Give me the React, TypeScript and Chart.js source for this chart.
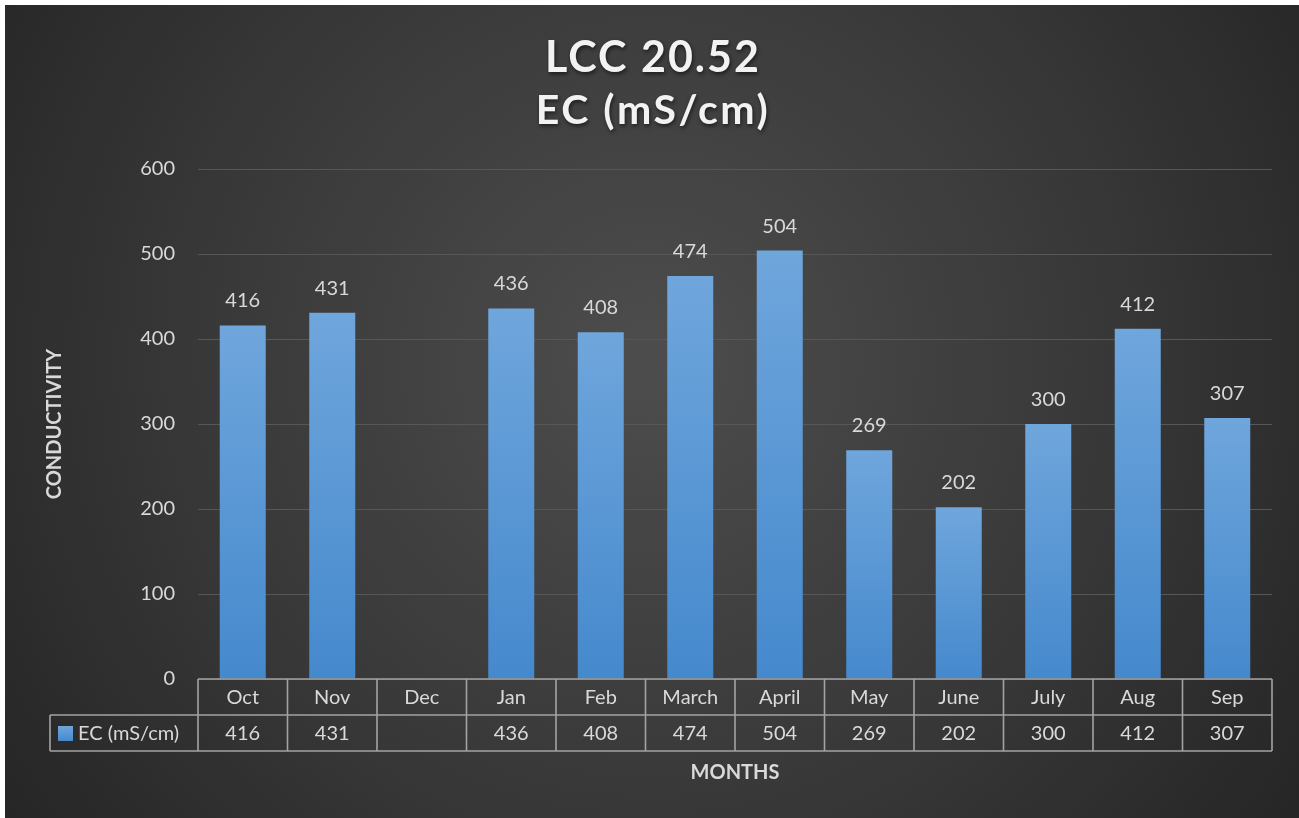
import React, { useEffect, useRef } from "react";
import { Chart, registerables } from "chart.js";
Chart.register(...registerables);

const titleLines = ["LCC 20.52", "EC (mS/cm)"];
const months = ["Oct", "Nov", "Dec", "Jan", "Feb", "March", "April", "May", "June", "July", "Aug", "Sep"];
const ecValues: (number | null)[] = [416, 431, null, 436, 408, 474, 504, 269, 202, 300, 412, 307];
const seriesName = "EC (mS/cm)";
const yMin = 0;
const yMax = 600;
const yStep = 100;
const yTitle = "CONDUCTIVITY";
const xTitle = "MONTHS";

const FONT = "Lato, 'Open Sans', sans-serif";
const TXT = "#d9d9d9";

const decorPlugin = {
  id: "decor",
  beforeDraw(chart: any) {
    const ctx = chart.ctx;
    const W = chart.width;
    const H = chart.height;
    ctx.save();
    ctx.fillStyle = "#ffffff";
    ctx.fillRect(0, 0, W, H);
    const g = ctx.createRadialGradient(650, 360, 0, 650, 360, 820);
    g.addColorStop(0, "#4d4d4d");
    g.addColorStop(0.55, "#383838");
    g.addColorStop(1, "#242424");
    ctx.fillStyle = g;
    ctx.fillRect(5, 5, W - 5, H - 5);
    ctx.restore();
  },
  afterDatasetsDraw(chart: any) {
    const ctx = chart.ctx;
    const meta = chart.getDatasetMeta(0);
    ctx.save();
    ctx.fillStyle = TXT;
    ctx.font = `20px ${FONT}`;
    ctx.textAlign = "center";
    ctx.textBaseline = "alphabetic";
    meta.data.forEach((bar: any, i: number) => {
      const v = ecValues[i];
      if (v === null || v === undefined) return;
      ctx.fillText(String(v), bar.x, bar.y - 18);
    });
    ctx.restore();
  },
  afterDraw(chart: any) {
    const ctx = chart.ctx;
    const { chartArea, scales } = chart;
    const x = scales.x;
    const n = months.length;
    const cw = (chartArea.right - chartArea.left) / n;
    const top = chartArea.bottom;
    const rowH = 36;
    const legendLeft = 50;
    ctx.save();
    // table lines
    ctx.strokeStyle = "#a3a3a3";
    ctx.lineWidth = 1.6;
    ctx.beginPath();
    ctx.moveTo(chartArea.left, top);
    ctx.lineTo(chartArea.right, top);
    ctx.moveTo(legendLeft, top + rowH);
    ctx.lineTo(chartArea.right, top + rowH);
    ctx.moveTo(legendLeft, top + 2 * rowH);
    ctx.lineTo(chartArea.right, top + 2 * rowH);
    ctx.moveTo(legendLeft, top + rowH);
    ctx.lineTo(legendLeft, top + 2 * rowH);
    for (let i = 0; i <= n; i++) {
      const lx = chartArea.left + i * cw;
      ctx.moveTo(lx, top);
      ctx.lineTo(lx, top + 2 * rowH);
    }
    ctx.stroke();
    // table text
    ctx.fillStyle = TXT;
    ctx.font = `20px ${FONT}`;
    ctx.textAlign = "center";
    ctx.textBaseline = "middle";
    months.forEach((m, i) => {
      const cx = x.getPixelForValue(i);
      ctx.fillText(m, cx, top + rowH / 2 + 1);
      const v = ecValues[i];
      if (v !== null && v !== undefined) ctx.fillText(String(v), cx, top + rowH * 1.5 + 1);
    });
    // legend key
    const kg = ctx.createLinearGradient(0, top + rowH + 11, 0, top + rowH + 26);
    kg.addColorStop(0, "#6fa6dc");
    kg.addColorStop(1, "#4589cd");
    ctx.fillStyle = kg;
    ctx.fillRect(58, top + rowH + 11, 15, 15);
    ctx.fillStyle = TXT;
    ctx.textAlign = "left";
    ctx.fillText(seriesName, 78, top + rowH * 1.5 + 1);
    // axis titles
    ctx.font = `bold 20px ${FONT}`;
    ctx.textAlign = "center";
    ctx.fillText(xTitle, 735, 773);
    ctx.save();
    ctx.translate(55, 424);
    ctx.rotate(-Math.PI / 2);
    ctx.fillText(yTitle, 0, 0);
    ctx.restore();
    // title
    ctx.shadowColor = "rgba(0,0,0,0.6)";
    ctx.shadowBlur = 4;
    ctx.shadowOffsetX = 1;
    ctx.shadowOffsetY = 2;
    ctx.fillStyle = "#f2f2f2";
    (ctx as any).letterSpacing = "2px";
    ctx.font = `bold 43px ${FONT}`;
    ctx.textBaseline = "alphabetic";
    ctx.fillText(titleLines[0], 653, 72);
    (ctx as any).letterSpacing = "2.5px";
    ctx.font = `bold 41px ${FONT}`;
    ctx.fillText(titleLines[1], 653, 124);
    (ctx as any).letterSpacing = "0px";
    ctx.restore();
  },
};

export default function App() {
  const ref = useRef<HTMLCanvasElement | null>(null);
  useEffect(() => {
    if (!ref.current) return;
    const chart = new Chart(ref.current, {
      type: "bar",
      data: {
        labels: months,
        datasets: [
          {
            label: seriesName,
            data: ecValues,
            backgroundColor: (c: any) => {
              const ch = c.chart;
              const { chartArea, scales } = ch;
              if (!chartArea || c.raw === null || c.raw === undefined) return "#5b9bd5";
              const t = scales.y.getPixelForValue(c.raw);
              const g = ch.ctx.createLinearGradient(0, t, 0, chartArea.bottom);
              g.addColorStop(0, "#6fa6dc");
              g.addColorStop(1, "#4589cd");
              return g;
            },
            borderWidth: 0,
            categoryPercentage: 1,
            barPercentage: 0.514,
          },
        ],
      },
      options: {
        responsive: false,
        animation: false,
        layout: { padding: { left: 100, right: 27, top: 169, bottom: 139 } },
        plugins: {
          legend: { display: false },
          tooltip: { enabled: false },
          title: { display: false },
        },
        scales: {
          x: { display: false },
          y: {
            min: yMin,
            max: yMax,
            ticks: { stepSize: yStep, color: TXT, font: { family: FONT, size: 20 }, padding: 23 },
            grid: { color: "#575757", lineWidth: 1, drawTicks: false },
            border: { display: false },
            afterFit: (s: any) => {
              s.width = 98;
            },
          },
        },
      },
      plugins: [decorPlugin],
    });
    return () => chart.destroy();
  }, []);
  return (
    <div style={{ position: "fixed", left: 0, top: 0, width: 1299, height: 818 }}>
      <canvas ref={ref} width={1299} height={818} style={{ display: "block" }} />
    </div>
  );
}
